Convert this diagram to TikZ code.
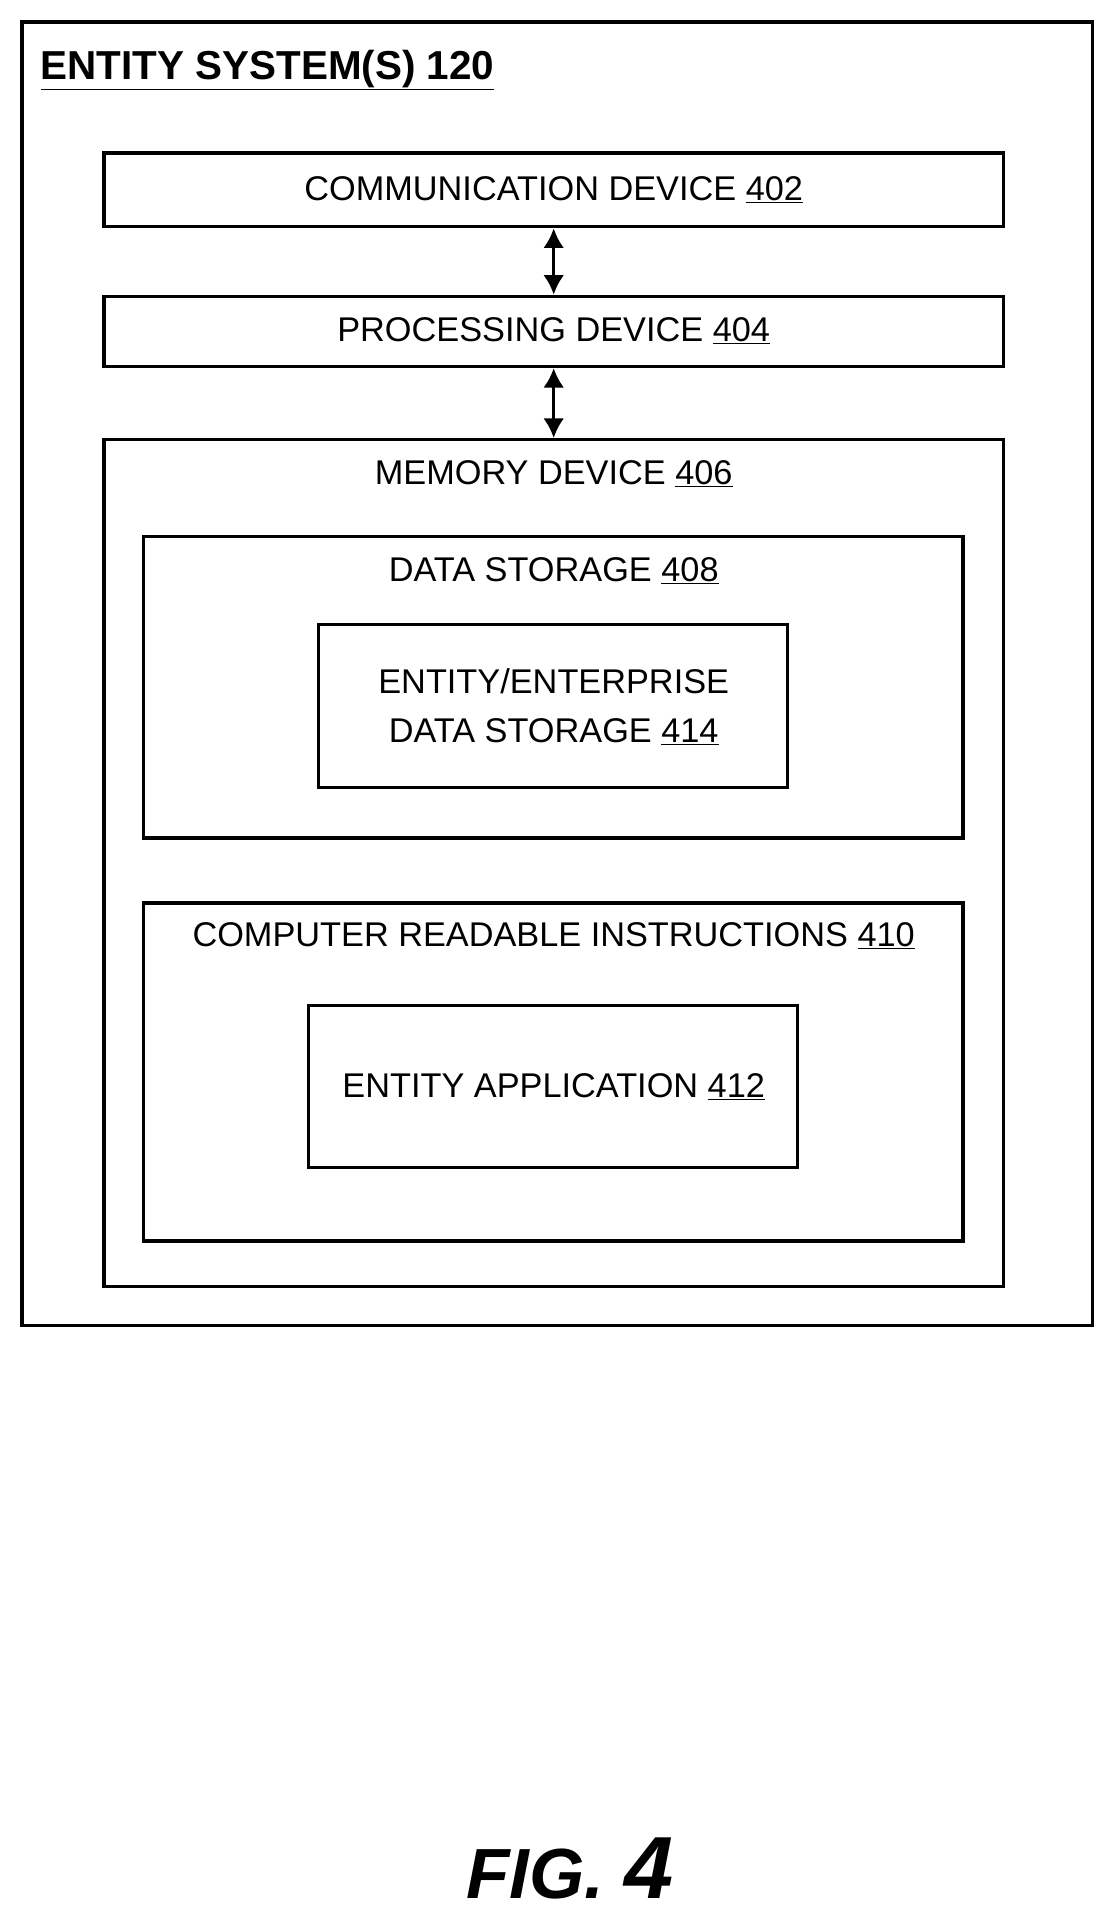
\documentclass[tikz,border=0pt]{standalone}
\usepackage{fontspec}
\setmainfont{Liberation Sans}
\usetikzlibrary{arrows.meta}
\tikzset{
  blk/.style={draw=black, line width=2.8pt},
  lbl/.style={font=\fontsize{28}{34}\selectfont, inner sep=0pt, anchor=center},
  link/.style={{Latex[length=16pt,width=17pt]}-{Latex[length=16pt,width=17pt]}, line width=2.8pt}
}
\begin{document}
\begin{tikzpicture}[x=1pt,y=-1pt]
    \useasboundingbox (0,0) rectangle (910,1569);
    % boxes
    \draw[blk] (18,18) rectangle (892,1082);
    \node[blk, minimum width=734pt, minimum height=60pt, inner sep=0pt] (comm) at (452,155) {};
    \node[blk, minimum width=734pt, minimum height=57pt, inner sep=0pt] (proc) at (452,270.5) {};
    \node[blk, minimum width=734pt, minimum height=691pt, inner sep=0pt] (mem) at (452,704.5) {};
    \draw[blk] (117,438) rectangle (786,684);
    \draw[blk] (260,510) rectangle (643,643);
    \draw[blk] (117,737) rectangle (786,1013);
    \draw[blk] (252,821) rectangle (651,953);

    % connectors
    \draw[link] (comm) -- (proc);
    \draw[link] (proc) -- (mem);

    % labels
    \node[lbl, anchor=west, font=\fontsize{33}{38}\selectfont\bfseries] (title) at (33,57) {\underline{ENTITY SYSTEM(S) 120}};
    \node[lbl] (commtxt) at (452,155) {COMMUNICATION DEVICE \underline{402}};
    \node[lbl] (proctxt) at (452,270) {PROCESSING DEVICE \underline{404}};
    \node[lbl] (memtxt) at (452,387) {MEMORY DEVICE \underline{406}};
    \node[lbl] (dstxt) at (452,466) {DATA STORAGE \underline{408}};
    \node[lbl, align=center] (edtxt) at (452,577) {ENTITY/ENTERPRISE\\[6pt]DATA STORAGE \underline{414}};
    \node[lbl] (critxt) at (452,764) {COMPUTER READABLE INSTRUCTIONS \underline{410}};
    \node[lbl] (apptxt) at (452,887) {ENTITY APPLICATION \underline{412}};
    \node[lbl, font=\fontsize{58}{70}\selectfont\bfseries\itshape] (fig) at (465,1525) {FIG. {\fontsize{72}{80}\selectfont 4}};
\end{tikzpicture}
\end{document}
